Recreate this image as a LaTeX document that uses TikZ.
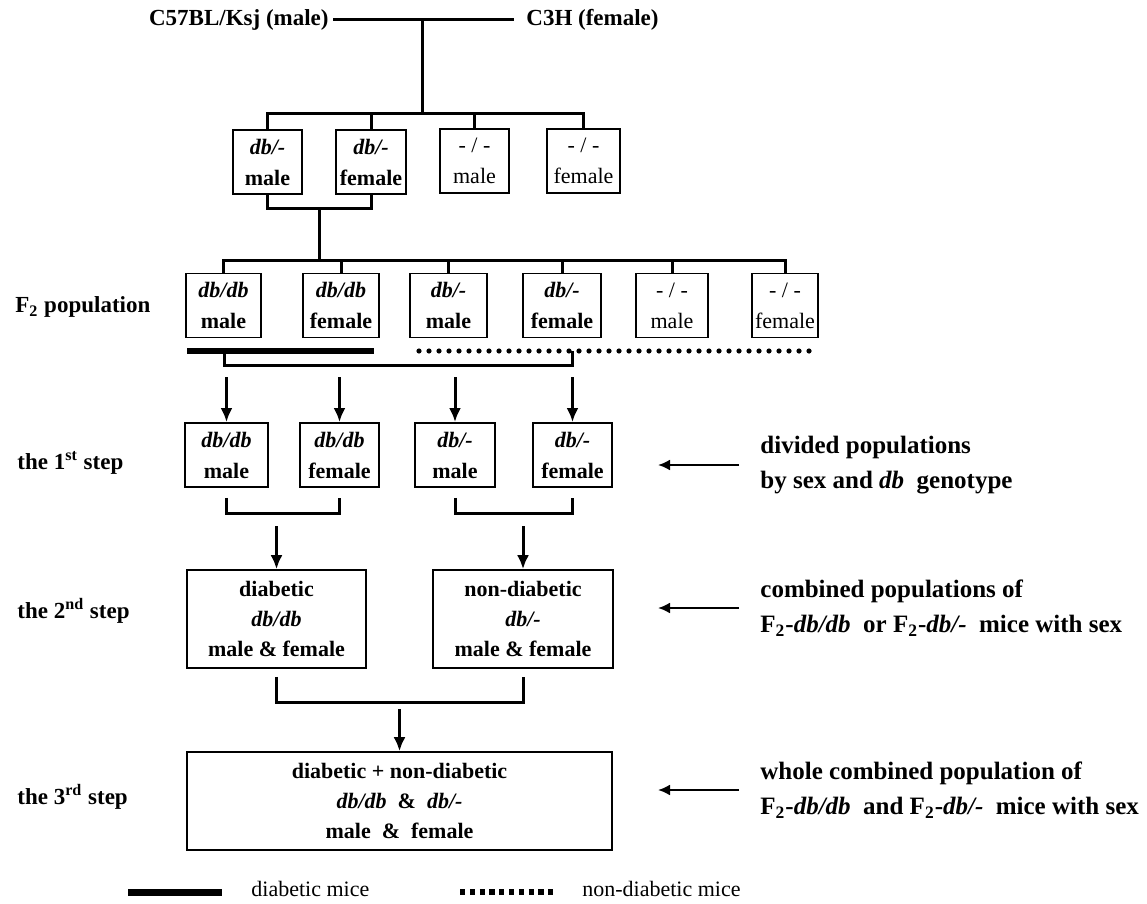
\documentclass[tikz,border=0pt]{standalone}
\usepackage{fontspec}
\setmainfont{Liberation Serif}
\usetikzlibrary{arrows.meta,calc}

\begin{document}
\begin{tikzpicture}[x=0.5pt,y=-0.5pt]
	\tikzset{
	  basic/.style = {draw, line width=0.8pt, rectangle, align=center, inner sep=0pt},
	  geno/.style  = {basic, line width=0.9pt, minimum height=32pt, font=\fontsize{11}{15.5}\selectfont\bfseries},
	  wild/.style  = {basic, minimum height=32pt, font=\fontsize{11}{15.5}\selectfont},
	  pool/.style  = {basic, minimum height=49pt, font=\fontsize{11}{15}\selectfont\bfseries},
	  rowname/.style = {anchor=west, inner sep=0pt, font=\fontsize{11.5}{13}\selectfont\bfseries},
	  remark/.style  = {anchor=west, inner sep=0pt, align=left,
	                    font=\fontsize{12.5}{17.5}\selectfont\bfseries},
	  link/.style  = {draw, line width=1.5pt},
	  down/.style  = {-{Latex[length=7pt,width=6pt]}, line width=1.5pt},
	  hint/.style  = {-{Latex[length=6pt,width=5.5pt]}, line width=1.1pt},
	  diabetic/.style    = {line width=3pt},
	  nondiabetic/.style = {line width=2.6pt, line cap=round, dash pattern=on 0pt off 5pt}
	}
	\useasboundingbox (0,0) rectangle (1147,904);

	% parents
	\node[anchor=east, inner sep=2pt, font=\fontsize{11.5}{14}\selectfont\bfseries] (sire) at (333,20) {C57BL/Ksj (male)};
	\node[anchor=west, inner sep=2pt, font=\fontsize{11.5}{14}\selectfont\bfseries] (dam) at (522,20) {C3H (female)};
	\draw[link] (sire.east) -- ([xshift=-4pt]dam.west);

	% F1
	\node[geno, minimum width=34.5pt] (p1) at (267.5,162) {\textit{db/-}\\male};
	\node[geno, minimum width=35pt] (p2) at (371,162) {\textit{db/-}\\female};
	\node[wild, minimum width=34.5pt] (p3) at (474.5,161) {- / -\\male};
	\node[wild, minimum width=36.5pt] (p4) at (583.5,161) {- / -\\female};
	\coordinate (j1) at (422,20);
	\coordinate (t1) at (422,114);
	\draw[link] (j1) -- (t1);
	\draw[link] (p1.north) |- (t1) -| (p4.north);
	\foreach \n in {p2,p3} \draw[link] (\n.north) -- (\n.north |- t1);
	\coordinate (k1) at (319,209);
	\coordinate (t2) at (319,260);
	\draw[link] (p1.south) |- (k1) -| (p2.south);
	\draw[link] (k1) -- (t2);

	% F2 population
	\node[rowname] (l0) at (15,307) {F\textsubscript{2} population};
	\node[geno, minimum width=37.5pt] (q1) at (223.5,305.5) {\textit{db/db}\\male};
	\node[geno, minimum width=38pt] (q2) at (341,305.5) {\textit{db/db}\\female};
	\node[geno, minimum width=38.5pt] (q3) at (448.5,305.5) {\textit{db/-}\\male};
	\node[geno, minimum width=39pt] (q4) at (562,305.5) {\textit{db/-}\\female};
	\node[wild, minimum width=36pt] (q5) at (672,305.5) {- / -\\male};
	\node[wild, minimum width=33pt] (q6) at (785,305.5) {- / -\\female};
	\draw[link] (q1.north) |- (t2) -| (q6.north);
	\foreach \n in {q2,q3,q4,q5} \draw[link] (\n.north) -- (\n.north |- t2);
	\coordinate (d1) at (187,351);
	\coordinate (d2) at (374,351);
	\coordinate (n1) at (419,351);
	\coordinate (n2) at (818,351);
	\draw[diabetic] (d1) -- (d2);
	\draw[nondiabetic] (n1) -- (n2);
	\coordinate (b1) at (224,365);
	\coordinate (b2) at (572,365);
	\draw[link] (b1 |- d1) -- (b1) -- (b2) -- (b2 |- n1);

	% 1st step
	\node[rowname] (l1) at (17,463) {the 1\textsuperscript{st} step};
	\node[geno, minimum width=41.5pt] (s1) at (226.5,455) {\textit{db/db}\\male};
	\node[geno, minimum width=39.5pt] (s2) at (339.5,455) {\textit{db/db}\\female};
	\node[geno, minimum width=40pt] (s3) at (455,455) {\textit{db/-}\\male};
	\node[geno, minimum width=39.5pt] (s4) at (572.5,455) {\textit{db/-}\\female};
	\foreach \n in {s1,s2,s3,s4} \draw[down] ([yshift=22.5pt]\n.north) -- (\n.north);
	\draw[link] ([yshift=-5pt]s1.south) |- ([yshift=-13pt]s2.south) -- ([yshift=-5pt]s2.south);
	\draw[link] ([yshift=-5pt]s3.south) |- ([yshift=-13pt]s4.south) -- ([yshift=-5pt]s4.south);
	\node[remark] (e1) at (760,465) {divided populations\\by sex and \textit{db}~~genotype};
	\draw[hint] ([xshift=-10.5pt]e1.west) -- ++(-81,0);

	% 2nd step
	\node[rowname] (l2) at (17,611) {the 2\textsuperscript{nd} step};
	\node[pool, minimum width=89.5pt] (r1) at (276.5,619) {diabetic\\\textit{db/db}\\male \& female};
	\node[pool, minimum width=90pt] (r2) at (523,619) {non-diabetic\\\textit{db/-}\\male \& female};
	\foreach \n in {r1,r2} \draw[down] ([yshift=21.5pt]\n.north) -- (\n.north);
	\draw[link] ([yshift=-4pt]r1.south) |- ([yshift=-17pt]r2.south) -- ([yshift=-4pt]r2.south);
	\node[remark] (e2) at (760,608) {combined populations of\\F\textsubscript{2}-\textit{db/db}~~or F\textsubscript{2}-\textit{db/-}~~mice with sex};
	\draw[hint] ([xshift=-10.5pt]e2.west) -- ++(-81,0);

	% 3rd step
	\node[rowname] (l3) at (17,797) {the 3\textsuperscript{rd} step};
	\node[pool, minimum width=212.5pt] (w) at (399.5,801) {diabetic + non-diabetic\\\textit{db/db}~~\&~~\textit{db/-}\\male~~\&~~female};
	\draw[down] ([yshift=21pt]w.north) -- (w.north);
	\node[remark] (e3) at (760,790) {whole combined population of\\F\textsubscript{2}-\textit{db/db}~~and F\textsubscript{2}-\textit{db/-}~~mice with sex};
	\draw[hint] ([xshift=-10.5pt]e3.west) -- ++(-81,0);

	% legend
	\coordinate (g1) at (128,892);
	\coordinate (g2) at (222,892);
	\draw[line width=3.5pt] (g1) -- (g2);
	\node[anchor=west, inner sep=0pt, font=\fontsize{11}{13}\selectfont] (g3) at (251,889) {diabetic mice};
	\coordinate (h1) at (460,892);
	\coordinate (h2) at (553,892);
	\draw[line width=2.8pt, dash pattern=on 2.6pt off 2.3pt] (h1) -- (h2);
	\node[anchor=west, inner sep=0pt, font=\fontsize{11}{13}\selectfont] (h3) at (582,889) {non-diabetic mice};
\end{tikzpicture}
\end{document}
